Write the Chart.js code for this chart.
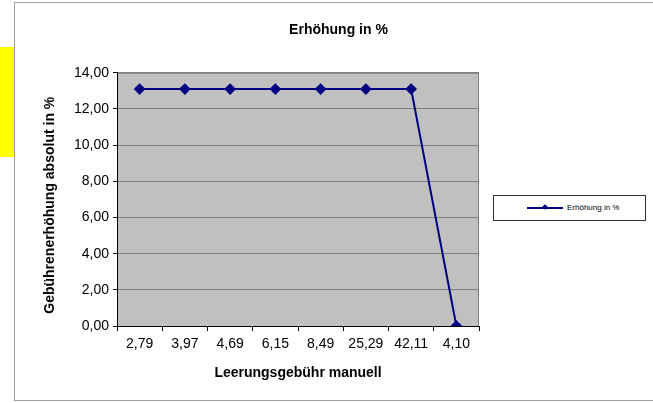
<!DOCTYPE html>
<html>
<head>
<meta charset="utf-8">
<script src="https://cdn.jsdelivr.net/npm/chart.js@4"></script>
<style>
    body { margin: 0; background: #fff; font-family: "Liberation Sans", Arial, sans-serif; }
    #frame { position: absolute; left: 14px; top: 2px; width: 660px; height: 397px; border: 1px solid #a0a0a0; }
    #yellow { position: absolute; left: 0; top: 47px; width: 14px; height: 110px; background: #ffff00; }
    #chart { position: absolute; left: 0; top: 0; }
    #legend { position: absolute; left: 493px; top: 195px; width: 151px; height: 24px; border: 1px solid #303030; background: #fff;
              font-size: 8px; line-height: 24px; }
    #legend .line { position: absolute; left: 33px; top: 11px; width: 36px; height: 2px; background: #000080; }
    #legend .dot { position: absolute; left: 49px; top: 9px; width: 4px; height: 4px; background: #000080; transform: rotate(45deg); }
    #legend .txt { position: absolute; left: 73px; top: 0; }
</style>
</head>
<body>
<div id="yellow"></div>
<div id="frame"></div>
<canvas id="chart" width="653" height="403"></canvas>
<div id="legend"><div class="line"></div><div class="dot"></div><span class="txt"></span></div>
<script>
const colorLine = '#000080';
const colorPlot = '#c0c0c0';
const colorGrid = '#808080';

// ================ DATA =====================================
const categories = ['2,79', '3,97', '4,69', '6,15', '8,49', '25,29', '42,11', '4,10'];
const erhoehung = [13.1, 13.1, 13.1, 13.1, 13.1, 13.1, 13.1, 0];
const seriesName = 'Erhöhung in %';
const yTicks = [0, 2, 4, 6, 8, 10, 12, 14];

document.querySelector('#legend .txt').textContent = seriesName;

// grey plot background with a thin border
const plotBackground = {
    id: 'plotBackground',
    beforeDraw(chart) {
        const {ctx, chartArea: a} = chart;
        ctx.save();
        ctx.fillStyle = colorPlot;
        ctx.fillRect(a.left, a.top, a.right - a.left, a.bottom - a.top);
        ctx.strokeStyle = colorGrid;
        ctx.lineWidth = 1;
        ctx.strokeRect(a.left + 0.5, a.top + 0.5, a.right - a.left - 1, a.bottom - a.top);
        ctx.restore();
    }
};

const fontFamily = '"Liberation Sans", Arial, sans-serif';
const boldFont = { family: fontFamily, size: 14, weight: 'bold', lineHeight: 1.2 };

const curveData = {
    type: 'line',
    data: {
        labels: categories,
        datasets: [{
            label: seriesName,
            data: erhoehung,
            borderColor: colorLine,
            backgroundColor: colorLine,
            borderWidth: 2,
            pointStyle: 'rectRot',
            pointRadius: 4.5,
            pointHoverRadius: 4.5,
            tension: 0
        }]
    },
    options: {
        responsive: false,
        animation: false,
        devicePixelRatio: 1,
        layout: { padding: { left: 24, right: 0, top: 22, bottom: 0 } },
        plugins: {
            legend: { display: false },
            tooltip: { enabled: false },
            title: {
                display: true,
                text: seriesName,
                color: '#000',
                font: boldFont,
                padding: { top: 0, bottom: 34 }
            }
        },
        scales: {
            x: {
                offset: true,
                grid: { offset: true, drawOnChartArea: false, tickLength: 5, tickColor: '#000' },
                border: { color: '#000', width: 1 },
                ticks: { color: '#000', padding: 5, maxRotation: 0, font: { family: fontFamily, size: 14 } },
                title: {
                    display: true,
                    text: 'Leerungsgebühr manuell',
                    color: '#000',
                    font: boldFont,
                    padding: { top: 0, bottom: 21 }
                },
                afterFit(scale) { scale.height = 77; }
            },
            y: {
                min: 0,
                max: 14,
                afterBuildTicks(scale) { scale.ticks = yTicks.map(v => ({value: v})); },
                grid: { color: colorGrid, tickColor: '#000', tickLength: 4 },
                border: { color: '#000', width: 1 },
                ticks: {
                    color: '#000',
                    padding: 4,
                    font: { family: fontFamily, size: 14 },
                    callback: v => v.toFixed(2).replace('.', ',')
                },
                title: {
                    display: true,
                    // trailing spaces nudge the rotated title down a little
                    text: 'Gebührenerhöhung absolut in %\u00A0\u00A0\u00A0',
                    color: '#000',
                    font: boldFont,
                    padding: { top: 18, bottom: 0 }
                },
                afterFit(scale) { scale.width = 93; }
            },
            // empty right axis only reserves the legend room
            yRight: {
                position: 'right',
                min: 0,
                max: 14,
                grid: { display: false },
                border: { display: false },
                ticks: { display: false },
                afterFit(scale) { scale.width = 174; }
            }
        }
    },
    plugins: [plotBackground]
};

const curve = new Chart(document.getElementById('chart'), curveData);
</script>
</body>
</html>
